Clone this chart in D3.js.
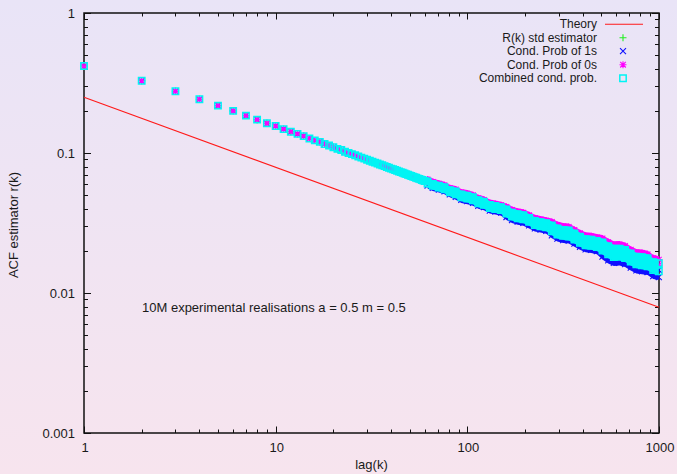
<!DOCTYPE html>
<html><head><meta charset="utf-8">
<script src="https://cdn.jsdelivr.net/npm/d3@7"></script>
<style>
html,body{margin:0;padding:0;background:#efe4f3;}
svg{display:block;}
text{font-family:"Liberation Sans",Arial,sans-serif;font-size:13px;fill:#1a1a1a;}
</style>
</head><body>
<svg id="c" width="677" height="474"></svg>
<script>
// ---------------- data ----------------
const xTickLabels = ["1", "10", "100", "1000"];
const yTickLabels = ["0.001", "0.01", "0.1", "1"];
const xTickValues = [1, 10, 100, 1000];
const yTickValues = [0.001, 0.01, 0.1, 1];

const theoryLags = [1, 1000];
const theoryValues = [0.25, 0.0079];

// lags 1..60 where all estimators coincide
const lowLags = [1,2,3,4,5,6,7,8,9,10,11,12,13,14,15,16,17,18,19,20,21,22,23,24,25,26,27,28,29,30,
  31,32,33,34,35,36,37,38,39,40,41,42,43,44,45,46,47,48,49,50,51,52,53,54,55,56,57,58,59,60];
const lowLagValues = [0.418,0.328,0.276,0.242,0.218,0.200,0.185,0.173,0.163,0.156,
  0.148,0.142,0.137,0.132,0.127,0.123,0.120,0.116,0.113,0.110,
  0.107,0.105,0.102,0.100,0.0982,0.0963,0.0944,0.0927,0.0911,0.0896,
  0.0881,0.0867,0.0853,0.0841,0.0828,0.0817,0.0806,0.0795,0.0784,0.0774,
  0.0765,0.0756,0.0747,0.0738,0.0730,0.0722,0.0714,0.0706,0.0699,0.0692,
  0.0685,0.0678,0.0672,0.0666,0.0659,0.0653,0.0648,0.0642,0.0636,0.0631];

// dense region: lags read along the noisy band (upper / lower edge of each cloud)
const sampledLags = [62,66,71,76,81,87,93,100,107,114,122,131,140,150,160,171,183,196,210,225,241,258,
  276,295,316,338,362,387,414,443,474,507,543,581,622,665,712,762,815,872,933,998];

const stdEstimator = [0.0621,0.0601,0.0580,0.0560,0.0542,0.0523,0.0506,0.0488,0.0471,0.0456,0.0441,0.0425,0.0411,0.0397,
  0.0385,0.0372,0.0359,0.0347,0.0335,0.0324,0.0313,0.0302,0.0292,0.0282,0.0273,0.0264,0.0255,0.0246,0.0238,0.0230,0.0222,
  0.0215,0.0207,0.0200,0.0194,0.0187,0.0181,0.0175,0.0169,0.0163,0.0158,0.0153];

const prob1Upper = [0.0616,0.0591,0.0575,0.0560,0.0533, 0.0514,0.0490,0.0480,0.0467,0.0445,0.0434,0.0411,0.0404,0.0397,
  0.0376,0.0357,0.0347,0.0341,0.0327,0.0311,0.0305,0.0300, 0.0283,0.0268,0.0262,0.0260,0.0247,0.0234,0.0225,0.0223,0.0218,
  0.0205,0.0192,0.0184,0.0185,0.0181,0.0171,0.0163,0.0161,0.0158,0.0148,0.0146];
const prob1Lower = [0.0586,0.0563,0.0548,0.0533,0.0507, 0.0486,0.0462,0.0453,0.0441,0.0420,0.0410,0.0388,0.0382,0.0375,
  0.0349,0.0332,0.0323,0.0317,0.0304,0.0289,0.0284,0.0278, 0.0258,0.0245,0.0239,0.0237,0.0225,0.0214,0.0205,0.0203,0.0199,
  0.0182,0.0171,0.0164,0.0165,0.0161,0.0152,0.0145,0.0143,0.0141,0.0132,0.0130];

const prob0Upper = [0.0647,0.0621,0.0604,0.0588,0.0560, 0.0549,0.0523,0.0513,0.0499,0.0475,0.0463,0.0439,0.0432,0.0424,
  0.0412,0.0392,0.0381,0.0375,0.0359,0.0342,0.0335,0.0328, 0.0322,0.0306,0.0299,0.0296,0.0282,0.0267,0.0256,0.0254,0.0249,
  0.0245,0.0231,0.0221,0.0222,0.0217,0.0204,0.0195,0.0193,0.0189,0.0177,0.0173];
const prob0Lower = [0.0626,0.0601,0.0585,0.0569,0.0542, 0.0523,0.0498,0.0488,0.0475,0.0452,0.0441,0.0418,0.0411,0.0404,
  0.0385,0.0366,0.0356,0.0350,0.0335,0.0319,0.0313,0.0307, 0.0297,0.0282,0.0275,0.0273,0.0259,0.0246,0.0236,0.0234,0.0229,
  0.0222,0.0209,0.0200,0.0200,0.0196,0.0186,0.0176,0.0175,0.0171,0.0161,0.0158];

const combinedUpper = [0.0626,0.0601,0.0585,0.0569,0.0542, 0.0532,0.0506,0.0496,0.0483,0.0460,0.0448,0.0425,0.0418,0.0410,
  0.0395,0.0375,0.0365,0.0359,0.0343,0.0327,0.0321,0.0315, 0.0304,0.0289,0.0282,0.0280,0.0266,0.0252,0.0242,0.0240,0.0235,
  0.0230,0.0216,0.0207,0.0207,0.0203,0.0192,0.0182,0.0180,0.0177,0.0166,0.0163];
const combinedLower = [0.0606,0.0582,0.0566,0.0551,0.0524, 0.0506,0.0482,0.0472,0.0460,0.0438,0.0427,0.0405,0.0398,0.0391,
  0.0369,0.0351,0.0342,0.0336,0.0322,0.0306,0.0300,0.0295, 0.0276,0.0262,0.0256,0.0253,0.0241,0.0228,0.0219,0.0217,0.0213,
  0.0201,0.0189,0.0181,0.0182,0.0178,0.0168,0.0160,0.0158,0.0155,0.0146,0.0143];

const seriesNames = ["Theory", "R(k) std estimator", "Cond. Prob of 1s", "Cond. Prob of 0s", "Combined cond. prob."];
const seriesColors = ["#ff1a1a", "#22ee22", "#1010ff", "#ff00ff", "#00f4f4"];
const seriesMarkers = ["line", "plus", "cross", "star", "square"];

// ---------------- chart ----------------
const W = 677, H = 474, L = 84, R = 659, T = 13, B = 433;
const x = d3.scaleLog().domain([1, 1000]).range([L, R]);
const y = d3.scaleLog().domain([0.001, 1]).range([B, T]);
const svg = d3.select("#c");

const defs = svg.append("defs");
const grad = defs.append("linearGradient").attr("id", "bg").attr("x1", 0).attr("y1", 0).attr("x2", 0).attr("y2", 1);
grad.append("stop").attr("offset", "0%").attr("stop-color", "#e9e4f7");
grad.append("stop").attr("offset", "100%").attr("stop-color", "#f7e4ee");
svg.append("rect").attr("width", W).attr("height", H).attr("fill", "url(#bg)");

// ticks (inward, mirrored)
const tg = svg.append("g").attr("stroke", "#111").attr("stroke-width", 1);
x.ticks().forEach(v => {
  const major = xTickValues.includes(v);
  const len = major ? 6.5 : 3.5;
  const px = Math.round(x(v)) + 0.5;
  tg.append("line").attr("x1", px).attr("x2", px).attr("y1", B).attr("y2", B - len);
  tg.append("line").attr("x1", px).attr("x2", px).attr("y1", T).attr("y2", T + len);
});
y.ticks().forEach(v => {
  const major = yTickValues.includes(v);
  const len = major ? 7 : 4;
  const py = Math.round(y(v)) + 0.5;
  tg.append("line").attr("y1", py).attr("y2", py).attr("x1", L).attr("x2", L + len);
  tg.append("line").attr("y1", py).attr("y2", py).attr("x1", R).attr("x2", R - len);
});

// border
svg.append("rect").attr("x", L).attr("y", T).attr("width", R - L).attr("height", B - T)
  .attr("fill", "none").attr("stroke", "#111").attr("stroke-width", 1.5);

// tick labels
xTickValues.forEach((v, i) => {
  svg.append("text").attr("x", x(v) + 1).attr("y", 452).attr("text-anchor", "middle").text(xTickLabels[i]);
});
yTickValues.forEach((v, i) => {
  svg.append("text").attr("x", 75).attr("y", y(v)).attr("dy", "0.35em").attr("text-anchor", "end").text(yTickLabels[i]);
});

// axis titles
svg.append("text").attr("x", (L + R) / 2).attr("y", 469).attr("text-anchor", "middle").text("lag(k)");
svg.append("text").attr("transform", "translate(18," + ((T + B) / 2 + 2) + ") rotate(-90)")
  .attr("text-anchor", "middle").text("ACF estimator r(k)");

// annotation
svg.append("text").attr("x", 142).attr("y", 307).attr("dy", "0.35em").text("10M experimental realisations a = 0.5 m = 0.5");

// theory line
svg.append("path")
  .datum(theoryLags.map((k, i) => [k, theoryValues[i]]))
  .attr("d", d3.line().x(d => x(d[0])).y(d => y(d[1])))
  .attr("fill", "none").attr("stroke", seriesColors[0]).attr("stroke-width", 1.1);

// marker shapes
const markerHalf = { plus: 3.5, cross: 3, star: 3.5, square: 3.95 };
function markerPath(type, cx, cy) {
  if (type === "plus") { const s = 3.5; return `M${cx - s},${cy}H${cx + s}M${cx},${cy - s}V${cy + s}`; }
  if (type === "cross") { const s = 3; return `M${cx - s},${cy - s}L${cx + s},${cy + s}M${cx - s},${cy + s}L${cx + s},${cy - s}`; }
  if (type === "star") { const s = 3.5, t = 2.8;
    return `M${cx - s},${cy}H${cx + s}M${cx},${cy - s}V${cy + s}M${cx - t},${cy - t}L${cx + t},${cy + t}M${cx - t},${cy + t}L${cx + t},${cy - t}`; }
  if (type === "square") { const s = 3.2; return `M${cx - s},${cy - s}H${cx + s}V${cy + s}H${cx - s}Z`; }
  return "";
}

function drawSeries(points, idx, upperArr, lowerArr) {
  const type = seriesMarkers[idx];
  const col = seriesColors[idx];
  // densely overlapping markers in the long-lag region merge into a solid band
  if (upperArr && lowerArr) {
    const h = markerHalf[type];
    const band = sampledLags.map((k, i) => ({ k, hi: upperArr[i], lo: lowerArr[i] }));
    svg.append("path").datum(band)
      .attr("d", d3.area().x(d => x(d.k)).y0(d => y(d.lo) + h).y1(d => y(d.hi) - h))
      .attr("fill", col).attr("stroke", "none");
  }
  const d = points.map(p => markerPath(type, x(p[0]), y(p[1]))).join("");
  svg.append("path").attr("d", d).attr("fill", "none").attr("stroke", col)
    .attr("stroke-width", type === "square" ? 1.5 : 1.1);
}

const low = lowLags.map((k, i) => [k, lowLagValues[i]]);
const pts = (arr) => sampledLags.map((k, i) => [k, arr[i]]);

drawSeries(low.concat(pts(stdEstimator)), 1);
drawSeries(low.concat(pts(prob1Upper), pts(prob1Lower)), 2, prob1Upper, prob1Lower);
drawSeries(low.concat(pts(prob0Upper), pts(prob0Lower)), 3, prob0Upper, prob0Lower);
drawSeries(low.concat(pts(combinedUpper), pts(combinedLower)), 4, combinedUpper, combinedLower);

// legend
const legY0 = 24.2, legDy = 13.5, legTextX = 597, legSampleX = 623;
seriesNames.forEach((name, i) => {
  const ly = legY0 + i * legDy;
  svg.append("text").attr("x", legTextX).attr("y", ly).attr("dy", "0.35em").attr("text-anchor", "end")
    .style("font-size", "12px").text(name);
  if (seriesMarkers[i] === "line") {
    svg.append("line").attr("x1", 605).attr("x2", 643).attr("y1", ly).attr("y2", ly)
      .attr("stroke", seriesColors[i]).attr("stroke-width", 1.1);
  } else {
    svg.append("path").attr("d", markerPath(seriesMarkers[i], legSampleX, ly)).attr("fill", "none")
      .attr("stroke", seriesColors[i]).attr("stroke-width", seriesMarkers[i] === "square" ? 1.5 : 1.1);
  }
});
</script>
</body></html>
